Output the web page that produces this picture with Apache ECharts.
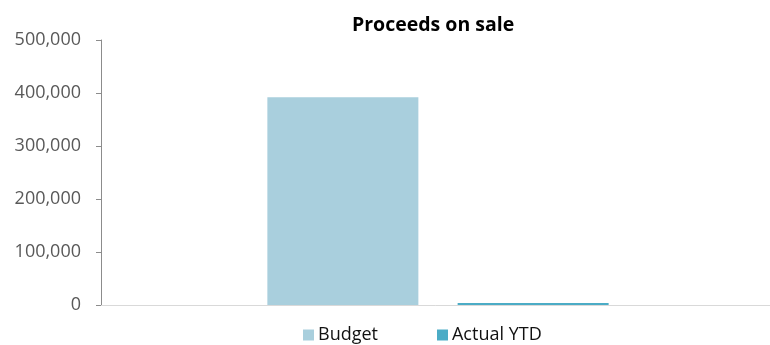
<!DOCTYPE html>
<html>
<head>
<meta charset="utf-8">
<script src="https://cdn.jsdelivr.net/npm/echarts@6/dist/echarts.min.js"></script>
<style>
  html, body { margin: 0; padding: 0; background: #fff; }
  #chart { width: 770px; height: 345px; }
</style>
</head>
<body>
<div id="chart"></div>
<script>
// Chart content
const chartTitle = 'Proceeds on sale';
const categories = [''];
const seriesNames = ['Budget', 'Actual YTD'];
const budgetValues = [392000];
const actualValues = [4000];
const yTicks = [0, 100000, 200000, 300000, 400000, 500000];

const fontFamily = '"Open Sans", "Noto Sans", sans-serif';
const fmt = v => v.toLocaleString('en-US');

const chart = echarts.init(document.getElementById('chart'), null, { renderer: 'canvas' });

chart.setOption({
  animation: false,
  backgroundColor: '#ffffff',
  title: {
    text: chartTitle,
    left: 352,
    top: 15,
    padding: 0,
    textStyle: { fontFamily, fontSize: 19.5, fontWeight: 'bold', color: '#000000' }
  },
  legend: {
    data: seriesNames,
    left: 303,
    top: 326,
    padding: 0,
    itemWidth: 11,
    itemHeight: 11,
    itemGap: 59,
    icon: 'rect',
    textStyle: { fontFamily, fontSize: 18, color: '#111111', padding: [0, 0, 0, -1] }
  },
  // plot area runs a little past the right edge of the canvas
  grid: {
    left: 101, width: 674, top: 40, bottom: 40,
    containLabel: false, outerBoundsMode: 'none'
  },
  xAxis: {
    type: 'category',
    data: categories,
    axisLine: { show: true, lineStyle: { color: '#d9d9d9', width: 1 } },
    axisTick: { show: false },
    axisLabel: { show: false },
    splitLine: { show: false }
  },
  yAxis: {
    type: 'value',
    min: yTicks[0],
    max: yTicks[yTicks.length - 1],
    interval: yTicks[1] - yTicks[0],
    axisLine: { show: true, lineStyle: { color: '#8c8c8c', width: 1 } },
    axisTick: { show: true, length: 5, lineStyle: { color: '#8c8c8c' } },
    axisLabel: { fontFamily, fontSize: 18, color: '#595959', margin: 20, formatter: fmt },
    splitLine: { show: false }
  },
  series: [
    {
      name: seriesNames[0],
      type: 'bar',
      data: budgetValues,
      barWidth: 151,
      barGap: '26%',
      itemStyle: { color: '#a9cfdd' }
    },
    {
      name: seriesNames[1],
      type: 'bar',
      data: actualValues,
      barWidth: 151,
      itemStyle: { color: '#4bacc6' }
    }
  ]
});
</script>
</body>
</html>
